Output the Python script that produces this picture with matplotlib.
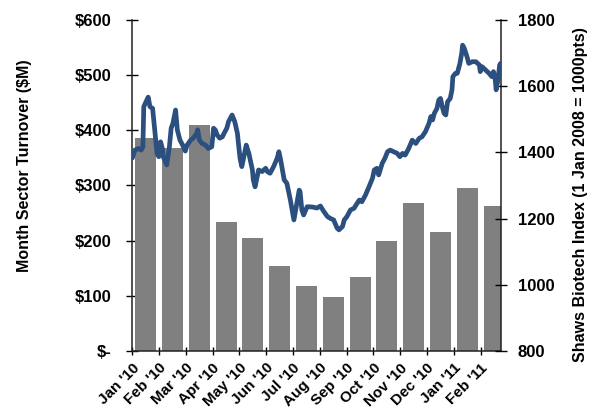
import numpy as np
import matplotlib
matplotlib.use("Agg")
import matplotlib.pyplot as plt
from matplotlib.ticker import FuncFormatter

# ---------------- data ----------------
months = ["Jan '10", "Feb '10", "Mar '10", "Apr '10", "May '10", "Jun '10", "Jul '10",
          "Aug '10", "Sep '10", "Oct '10", "Nov '10", "Dec '10", "Jan '11", "Feb '11"]
turnover = [387, 368, 410, 233, 205, 154, 117, 98, 135, 200, 268, 215, 296, 263]

# Shaws Biotech Index: days since 1 Jan 2010 and index level
index_days = [0, 3, 7, 10, 12, 13, 15, 18, 20, 23, 25, 28, 30, 32, 34, 35, 39, 42, 44, 46,
              49, 51, 54, 57, 60, 62, 66, 69, 73, 74, 76, 79, 83, 86, 90, 92, 94, 96, 99, 102,
              104, 107, 109, 113, 116, 119, 122, 124, 129, 132, 136, 137, 139, 143, 147, 151,
              153, 156, 160, 164, 166, 168, 172, 175, 179, 181, 183, 187, 189, 190, 192, 194,
              198, 204, 209, 213, 217, 221, 224, 228, 232, 234, 238, 240, 243, 247, 251, 257,
              260, 264, 268, 272, 274, 277, 279, 283, 286, 289, 292, 296, 300, 303, 306, 309,
              313, 317, 321, 325, 328, 332, 336, 338, 340, 342, 345, 347, 349, 351, 353, 355,
              357, 360, 362, 363, 366, 368, 371, 373, 374, 376, 379, 381, 385, 389, 393, 394,
              396, 400, 404, 407, 409, 411, 412, 414, 416, 417]
index_values = [1383, 1407, 1412, 1407, 1417, 1538, 1550, 1567, 1538, 1533, 1478, 1397, 1387,
                1432, 1412, 1387, 1362, 1417, 1473, 1488, 1528, 1468, 1437, 1422, 1404, 1422,
                1437, 1443, 1458, 1468, 1437, 1427, 1422, 1412, 1417, 1473, 1468, 1453, 1443,
                1447, 1458, 1473, 1493, 1513, 1493, 1458, 1382, 1357, 1422, 1397, 1347, 1317,
                1296, 1347, 1342, 1352, 1342, 1337, 1357, 1382, 1402, 1377, 1317, 1307, 1256,
                1226, 1196, 1256, 1286, 1281, 1226, 1211, 1236, 1235, 1232, 1238, 1221, 1206,
                1201, 1196, 1171, 1166, 1176, 1196, 1206, 1226, 1231, 1256, 1251, 1271, 1296,
                1322, 1347, 1352, 1332, 1367, 1382, 1402, 1407, 1402, 1397, 1387, 1397, 1392,
                1412, 1437, 1427, 1443, 1447, 1463, 1488, 1508, 1498, 1518, 1533, 1558, 1563,
                1538, 1518, 1513, 1553, 1563, 1589, 1629, 1639, 1639, 1669, 1699, 1724, 1714,
                1689, 1669, 1674, 1674, 1664, 1644, 1659, 1649, 1639, 1629, 1644, 1619, 1589,
                1619, 1664, 1669]

left_ticks = [0, 100, 200, 300, 400, 500, 600]
right_ticks = [800, 1000, 1200, 1400, 1600, 1800]

# ---------------- style ----------------
FONT = "Liberation Sans"
plt.rcParams["font.family"] = [FONT, "DejaVu Sans"]
plt.rcParams["font.weight"] = "bold"

W, H = 601, 416
fig = plt.figure(figsize=(W / 100, H / 100), dpi=100)
fig.patch.set_facecolor("white")

x0, x1, y0, y1 = 132.3, 501, 20, 351
pos = [x0 / W, 1 - y1 / H, (x1 - x0) / W, (y1 - y0) / H]

# bars on monthly axis
ax = fig.add_axes(pos)
xb = np.arange(len(months)) + 0.5
ax.bar(xb, turnover, width=0.78, color="#808080", edgecolor="none", zorder=2)
ax.set_xlim(0, 13.76)
ax.set_ylim(0, 600)
ax.set_xticks(np.arange(len(months)))
ax.set_xticklabels(months, rotation=45, ha="right", va="top", rotation_mode="anchor",
                   fontsize=11, fontweight="bold")
ax.set_yticks(left_ticks)
ax.yaxis.set_major_formatter(FuncFormatter(lambda v, p: "$-" if v == 0 else f"${v:.0f}"))
for lab in ax.get_yticklabels():
    lab.set_fontsize(12)
    lab.set_fontweight("bold")
ax.tick_params(axis="y", direction="inout", length=8, width=1, pad=11, labelsize=12)
ax.tick_params(axis="x", direction="inout", length=6, width=1, pad=4)
for s in ["top"]:
    ax.spines[s].set_visible(False)
for s in ["left", "bottom", "right"]:
    ax.spines[s].set_color("#222222")
    ax.spines[s].set_linewidth(1.1)

# line on daily axis
ax2 = fig.add_axes(pos, frameon=False)
ax2.plot(index_days, index_values, color="#2B4F7E", lw=3.4,
         solid_joinstyle="round", solid_capstyle="round", zorder=3)
ax2.set_xlim(0, 417.5)
ax2.set_ylim(800, 1800)
ax2.xaxis.set_visible(False)
ax2.yaxis.tick_right()
ax2.set_yticks(right_ticks)
ax2.tick_params(axis="y", direction="inout", length=8, width=1, pad=8, labelsize=12)
for lab in ax2.get_yticklabels():
    lab.set_fontweight("bold")

fig.text(25 / W, 1 - 166 / H, "Month Sector Turnover ($M)", rotation=90,
         ha="center", va="center", fontsize=11.5, fontweight="bold")
fig.text(580 / W, 1 - 195 / H, "Shaws Biotech Index (1 Jan 2008 = 1000pts)", rotation=90,
         ha="center", va="center", fontsize=11.5, fontweight="bold")

fig.savefig("out.png", dpi=100, facecolor="white")
